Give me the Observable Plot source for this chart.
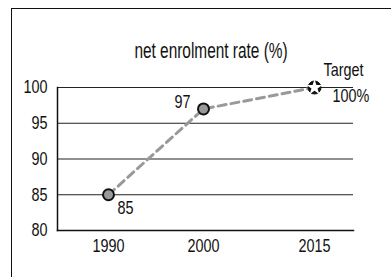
<!DOCTYPE html>
<html>
<head>
<meta charset="utf-8">
<script src="https://cdn.jsdelivr.net/npm/d3@7"></script>
<script src="https://cdn.jsdelivr.net/npm/@observablehq/plot@0.6"></script>
<style>
  html, body { margin: 0; padding: 0; background: #fff; overflow: hidden; }
  #wrap { position: relative; width: 391px; height: 277px; font-family: "Liberation Sans", Arial, sans-serif; }
  #frame { position: absolute; left: 11px; top: 8px; width: 420px; height: 320px; border: 1.5px solid #111; box-sizing: border-box; }
  #title { position: absolute; left: 0; width: 422px; top: 40px; text-align: center; font-size: 22px; line-height: 22px; color: #111; transform: scaleX(0.7); transform-origin: 211px 50%; white-space: nowrap; }
  #chart { position: absolute; left: 0; top: 0; }
</style>
</head>
<body>
<div id="wrap">
  <div id="frame"></div>
  <div id="title">net enrolment rate (%)</div>
  <div id="chart"></div>
</div>
<script>
const years = [1990, 2000, 2015];
const rates = [85, 97, 100];
const isTarget = [false, false, true];
const valueLabels = ["85", "97", ""];
const yTicks = [80, 85, 90, 95, 100];
const targetLines = ["Target", "100%"];

const data = years.map((y, i) => ({year: y, rate: rates[i], target: isTarget[i], label: valueLabels[i]}));
const actual = data.filter(d => !d.target);
const target = data.filter(d => d.target);

const FS = 18;
const chart = Plot.plot({
  width: 391,
  height: 277,
  marginLeft: 57,
  marginRight: 38,
  marginTop: 87,
  marginBottom: 47,
  style: {fontFamily: '"Liberation Sans", Arial, sans-serif', fontSize: FS + "px", color: "#111", background: "transparent"},
  x: {type: "linear", domain: years, range: [108, 203, 314], ticks: years, tickFormat: d => String(d), label: null},
  y: {domain: [80, 100], ticks: yTicks, label: null},
  marks: [
    Plot.ruleY(yTicks, {stroke: "#222", strokeWidth: 1.2}),
    Plot.frame({anchor: "left", stroke: "#111", strokeWidth: 1.5}),
    Plot.frame({anchor: "bottom", stroke: "#111", strokeWidth: 1.5}),
    Plot.axisY({ticks: yTicks, tickSize: 0, tickPadding: 10, fontSize: FS, label: null}),
    Plot.axisX({ticks: years, tickSize: 0, tickPadding: 9, fontSize: FS, label: null, tickFormat: d => String(d)}),
    Plot.line(data, {x: "year", y: "rate", stroke: "#999", strokeWidth: 3, strokeDasharray: "8,5"}),
    Plot.dot(actual, {x: "year", y: "rate", r: 5.5, fill: "#999", stroke: "#111", strokeWidth: 2}),
    Plot.dot(target, {x: "year", y: "rate", r: 6.5, fill: "#111", stroke: "#111", strokeWidth: 1}),
    Plot.dot(target, {x: "year", y: "rate", r: 5, symbol: "star", fill: "#fff"}),
    Plot.text(actual.filter(d => d.year === 1990), {x: "year", y: "rate", text: "label", textAnchor: "start", dx: 9, dy: 13.5, fontSize: FS}),
    Plot.text(actual.filter(d => d.year === 2000), {x: "year", y: "rate", text: "label", textAnchor: "end", dx: -13, dy: -7, fontSize: FS}),
    Plot.text(target, {x: "year", y: "rate", text: () => targetLines[0], textAnchor: "start", dx: 9, dy: -17, fontSize: FS}),
    Plot.text(target, {x: "year", y: "rate", text: () => targetLines[1], textAnchor: "start", dx: 18, dy: 8.7, fontSize: FS})
  ]
});
document.getElementById("chart").appendChild(chart);

// condense the glyphs (reference uses a condensed face), scaling each text about its own anchor point
chart.querySelectorAll("text").forEach(el => {
  const x = +(el.getAttribute("x") || 0);
  const prev = el.getAttribute("transform") || "";
  el.setAttribute("transform", `${prev} translate(${x},0) scale(0.8,1) translate(${-x},0)`.trim());
});
</script>
</body>
</html>
